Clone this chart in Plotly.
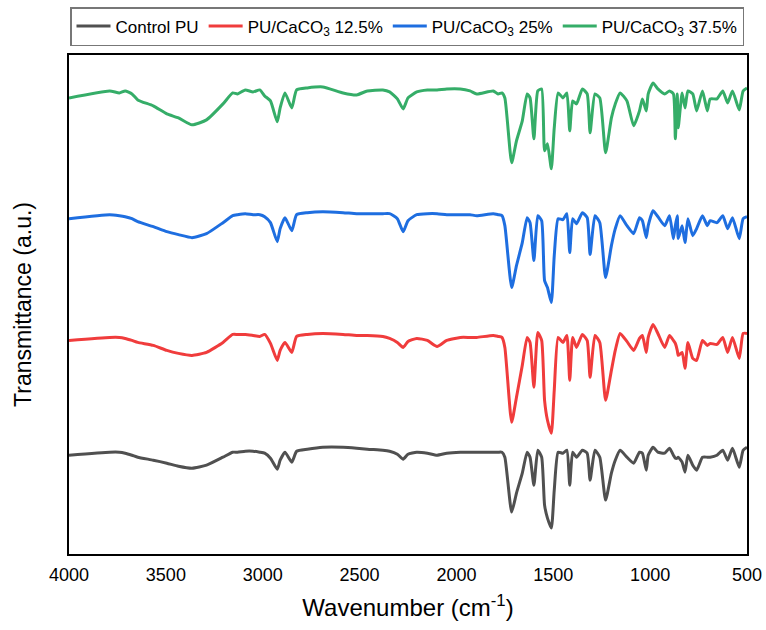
import plotly.graph_objects as go

wavenumber = [
    4000, 3790, 3740, 3710, 3675, 3645, 3565, 3495, 3435, 3365,
    3290, 3205, 3155, 3130, 3090, 3050, 3015, 2990, 2960, 2925,
    2910, 2885, 2850, 2825, 2770, 2690, 2585, 2515, 2460, 2380,
    2345, 2305, 2275, 2250, 2205, 2150, 2100, 2050, 1980, 1930,
    1895,
    1810, 1785, 1765, 1750, 1715, 1690, 1660, 1635, 1620, 1600,
    1580, 1560, 1545, 1530, 1510, 1495, 1475, 1450, 1430, 1415,
    1400, 1380, 1350, 1325, 1310, 1285, 1260, 1230, 1200, 1180,
    1155, 1120, 1085, 1055, 1040, 1020, 1010, 985, 960, 925,
    900, 880, 870, 860, 855, 835, 820, 805, 780, 760,
    730, 705, 690, 655, 625, 600, 575, 540, 520, 500,
]

control_pu = [
    1.45, 1.48, 1.48, 1.47, 1.45, 1.43, 1.40, 1.37, 1.34, 1.32,
    1.35, 1.43, 1.48, 1.48, 1.49, 1.49, 1.48, 1.47, 1.42, 1.31,
    1.40, 1.48, 1.38, 1.49, 1.51, 1.53, 1.53, 1.52, 1.51, 1.50,
    1.49, 1.46, 1.41, 1.46, 1.48, 1.47, 1.45, 1.47, 1.48, 1.48,
    1.48,
    1.48, 1.48, 1.48, 1.43, 0.88, 1.07, 1.27, 1.48, 1.43, 1.15,
    1.50, 1.43, 0.95, 0.82, 0.72, 1.10, 1.48, 1.47, 1.50, 1.15,
    1.48, 1.43, 1.50, 1.47, 1.20, 1.50, 1.43, 1.00, 1.27, 1.40,
    1.50, 1.43, 1.37, 1.48, 1.47, 1.30, 1.45, 1.53, 1.48, 1.47,
    1.52, 1.45, 1.42, 1.42, 1.43, 1.38, 1.28, 1.45, 1.35, 1.30,
    1.43, 1.43, 1.43, 1.45, 1.50, 1.40, 1.52, 1.33, 1.50, 1.53,
]

pu_caco3_12_5 = [
    2.60, 2.63, 2.63, 2.62, 2.60, 2.58, 2.55, 2.50, 2.47, 2.45,
    2.48, 2.58, 2.66, 2.66, 2.66, 2.65, 2.64, 2.66, 2.57, 2.40,
    2.50, 2.58, 2.48, 2.64, 2.66, 2.67, 2.66, 2.65, 2.65, 2.64,
    2.62, 2.58, 2.53, 2.59, 2.62, 2.60, 2.54, 2.60, 2.63, 2.63,
    2.63,
    2.65, 2.64, 2.63, 2.53, 1.78, 2.03, 2.35, 2.63, 2.58, 2.13,
    2.68, 2.60, 2.00, 1.80, 1.67, 2.10, 2.63, 2.58, 2.65, 2.20,
    2.63, 2.53, 2.66, 2.60, 2.23, 2.65, 2.58, 2.00, 2.30, 2.50,
    2.67, 2.59, 2.50, 2.62, 2.65, 2.48, 2.63, 2.76, 2.67, 2.53,
    2.65, 2.60, 2.57, 2.50, 2.45, 2.48, 2.32, 2.58, 2.42, 2.40,
    2.60, 2.55, 2.57, 2.56, 2.63, 2.48, 2.63, 2.42, 2.67, 2.67,
]

pu_caco3_25 = [
    3.82, 3.86, 3.85, 3.84, 3.82, 3.79, 3.74, 3.69, 3.66, 3.63,
    3.67, 3.78, 3.85, 3.86, 3.87, 3.86, 3.86, 3.84, 3.78, 3.59,
    3.72, 3.83, 3.70, 3.86, 3.88, 3.89, 3.88, 3.87, 3.87, 3.87,
    3.87, 3.82, 3.69, 3.80, 3.86, 3.87, 3.87, 3.86, 3.86, 3.86,
    3.85,
    3.87, 3.86, 3.85, 3.75, 3.13, 3.35, 3.58, 3.83, 3.78, 3.40,
    3.85, 3.80, 3.20, 3.13, 2.98, 3.45, 3.82, 3.81, 3.87, 3.48,
    3.82, 3.77, 3.88, 3.83, 3.46, 3.85, 3.78, 3.23, 3.55, 3.72,
    3.85, 3.75, 3.67, 3.83, 3.80, 3.63, 3.75, 3.90, 3.84, 3.75,
    3.85, 3.62, 3.75, 3.85, 3.62, 3.75, 3.58, 3.82, 3.65, 3.72,
    3.85, 3.75, 3.80, 3.78, 3.85, 3.72, 3.83, 3.62, 3.82, 3.84,
]

pu_caco3_37_5 = [
    5.03, 5.10, 5.08, 5.10, 5.07, 5.01, 4.95, 4.87, 4.83, 4.76,
    4.81, 4.97, 5.08, 5.07, 5.11, 5.09, 5.11, 5.05, 5.00, 4.79,
    4.93, 5.08, 4.93, 5.11, 5.13, 5.14, 5.08, 5.06, 5.10, 5.11,
    5.09, 5.02, 4.92, 5.03, 5.09, 5.11, 5.11, 5.12, 5.12, 5.10,
    5.07,
    5.10, 5.07, 5.08, 5.03, 4.38, 4.60, 4.80, 5.07, 5.03, 4.62,
    5.10, 5.12, 4.50, 4.57, 4.32, 4.73, 5.08, 5.03, 5.08, 4.70,
    5.00, 4.97, 5.12, 5.07, 4.68, 5.07, 5.03, 4.48, 4.83, 4.97,
    5.08, 5.00, 4.75, 4.90, 5.02, 4.90, 5.07, 5.18, 5.12, 5.07,
    5.10, 5.07, 4.62, 5.07, 4.73, 5.08, 4.93, 5.10, 5.07, 4.90,
    5.10, 4.90, 5.02, 5.02, 5.10, 4.98, 5.10, 4.91, 5.10, 5.13,
]

series_names = [
    "Control PU",
    "PU/CaCO<sub>3</sub> 12.5%",
    "PU/CaCO<sub>3</sub> 25%",
    "PU/CaCO<sub>3</sub> 37.5%",
]
series_values = [control_pu, pu_caco3_12_5, pu_caco3_25, pu_caco3_37_5]
colors = ["#505050", "#f03c3c", "#1e6ee0", "#35ad68"]

x_ticks = [4000, 3500, 3000, 2500, 2000, 1500, 1000, 500]

fig = go.Figure()
for name, vals, col in zip(series_names, series_values, colors):
    fig.add_trace(go.Scatter(
        x=wavenumber, y=vals, mode="lines", name=name,
        line=dict(color=col, width=3, shape="spline", smoothing=0.5),
    ))

font_family = "Liberation Sans, Arial, sans-serif"
ml, mr, mt, mb = 69, 19, 55, 76
fig.update_layout(
    width=766, height=630,
    margin=dict(l=ml, r=mr, t=mt, b=mb, autoexpand=False),
    paper_bgcolor="white", plot_bgcolor="white",
    font=dict(family=font_family, color="black"),
    showlegend=True,
    legend=dict(
        orientation="h",
        xref="container", yref="container",
        x=70 / 766, y=1 - 7 / 630, xanchor="left", yanchor="top",
        bordercolor="#777777", borderwidth=1.5,
        font=dict(size=17, family=font_family),
        itemwidth=34, tracegroupgap=0,
        bgcolor="white",
    ),
    xaxis=dict(
        range=[4000, 500], tickvals=x_ticks,
        ticks="", showgrid=False, zeroline=False, automargin=False,
        showline=True, linecolor="black", linewidth=1.5, mirror=True,
        tickfont=dict(size=18), ticklabelstandoff=4,
        title=dict(text="Wavenumber (cm<sup>-1</sup>)", font=dict(size=24), standoff=15),
    ),
    yaxis=dict(
        range=[0.46, 5.46], showticklabels=False,
        ticks="", showgrid=False, zeroline=False, automargin=False,
        showline=True, linecolor="black", linewidth=1.5, mirror=True,
        title=dict(text="Transmittance (a.u.)", font=dict(size=23), standoff=29),
    ),
)

fig.write_html(
    "out.html",
    config={"displayModeBar": False},
    post_script="document.body.style.margin='0';document.body.style.padding='0';",
)
